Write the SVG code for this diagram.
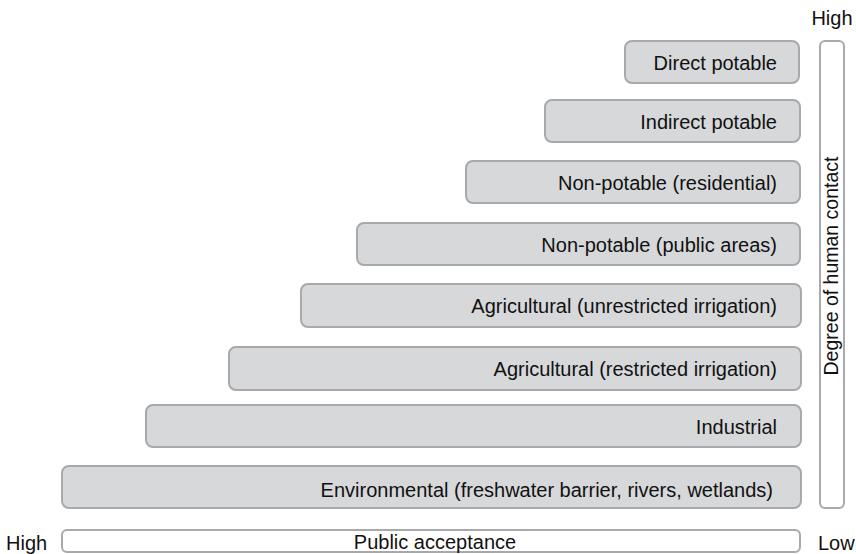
<svg xmlns="http://www.w3.org/2000/svg" width="856" height="554" viewBox="0 0 856 554">
<style>
.box{fill:#d7d8da;stroke:#a7a9ac;stroke-width:2}
.bar{fill:#ffffff;stroke:#a7a9ac;stroke-width:2}
text{font-family:"Liberation Sans",Arial,Helvetica,sans-serif;font-size:20px;fill:#111111}
.r{text-anchor:end}
.m{text-anchor:middle}
</style>
<rect width="856" height="554" fill="#ffffff"/>
<g id="n1"><rect class="box" x="625" y="41" width="174" height="42" rx="7"/><text class="r" x="777" y="70">Direct potable</text></g>
<g id="n2"><rect class="box" x="545" y="100" width="255" height="42" rx="7"/><text class="r" x="777" y="129">Indirect potable</text></g>
<g id="n3"><rect class="box" x="466" y="161" width="334" height="42" rx="7"/><text class="r" x="777" y="190">Non-potable (residential)</text></g>
<g id="n4"><rect class="box" x="357" y="223" width="443" height="42" rx="7"/><text class="r" x="777" y="252">Non-potable (public areas)</text></g>
<g id="n5"><rect class="box" x="301" y="284" width="500" height="43" rx="7"/><text class="r" x="777" y="313">Agricultural (unrestricted irrigation)</text></g>
<g id="n6"><rect class="box" x="229" y="347" width="572" height="43" rx="7"/><text class="r" x="777" y="376">Agricultural (restricted irrigation)</text></g>
<g id="n7"><rect class="box" x="146" y="405" width="655" height="42" rx="7"/><text class="r" x="777" y="434">Industrial</text></g>
<g id="n8"><rect class="box" x="62" y="466" width="739" height="42" rx="7"/><text class="r" x="773" y="497">Environmental (freshwater barrier, rivers, wetlands)</text></g>
<g id="contact"><rect class="bar" x="820" y="41" width="24" height="467" rx="5"/><text class="m" style="font-size:19.5px" transform="translate(838 266) rotate(-90)">Degree of human contact</text><text class="m" x="832" y="25">High</text></g>
<g id="acceptance"><rect class="bar" x="62" y="530" width="738" height="22" rx="5"/><text class="m" x="435" y="549">Public acceptance</text><text x="6" y="550">High</text><text x="818" y="550">Low</text></g>
</svg>
